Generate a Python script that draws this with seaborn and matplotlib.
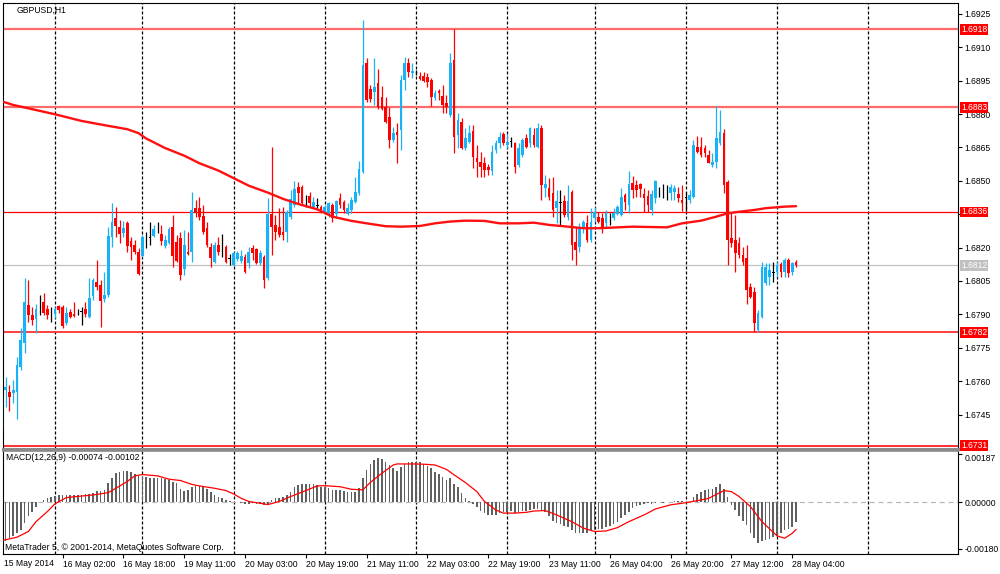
import matplotlib
matplotlib.use("Agg")
import matplotlib.pyplot as plt
import numpy as np
import pandas as pd
import seaborn as sns

symbol_title = "GBPUSD,H1"
macd_title = "MACD(12,26,9) -0.00074 -0.00102"
copyright_text = "MetaTrader 5, \u00a9 2001-2014, MetaQuotes Software Corp."

# ---- hourly candles (bar 0 = 15 May 2014 10:00) ----
opens = [1.67403, 1.67560, 1.67551, 1.67547, 1.67551, 1.67664, 1.67772, 1.67942, 1.67897, 1.67879,
         1.67933, 1.67955, 1.67924, 1.67897, 1.67902, 1.67938, 1.67933, 1.67861, 1.67911, 1.67902,
         1.67906, 1.67911, 1.67924, 1.67888, 1.67982, 1.68045, 1.68031, 1.67969, 1.67987, 1.68247,
         1.68333, 1.68293, 1.68266, 1.68311, 1.68230, 1.68211, 1.68180, 1.68162, 1.68243, 1.68247,
         1.68252, 1.68270, 1.68261, 1.68207, 1.68221, 1.68293, 1.68225, 1.68243, 1.68103, 1.68180,
         1.68180, 1.68378, 1.68378, 1.68342, 1.68288, 1.68202, 1.68135, 1.68211, 1.68189, 1.68202,
         1.68149, 1.68121, 1.68149, 1.68140, 1.68158, 1.68130, 1.68198, 1.68193, 1.68130, 1.68158,
         1.68063, 1.68351, 1.68302, 1.68293, 1.68270, 1.68270, 1.68338, 1.68391, 1.68472, 1.68472,
         1.68414, 1.68432, 1.68383, 1.68391, 1.68383, 1.68360, 1.68347, 1.68391, 1.68351, 1.68423,
         1.68405, 1.68351, 1.68369, 1.68405, 1.68445, 1.68540, 1.69030, 1.68913, 1.68900, 1.68940,
         1.68877, 1.68832, 1.68787, 1.68684, 1.68720, 1.68729, 1.68953, 1.69030, 1.68985, 1.68989,
         1.68971, 1.68971, 1.68967, 1.68953, 1.68873, 1.68904, 1.68882, 1.68850, 1.68796, 1.69043,
         1.68706, 1.68765, 1.68648, 1.68675, 1.68724, 1.68603, 1.68585, 1.68580, 1.68562, 1.68544,
         1.68639, 1.68670, 1.68711, 1.68661, 1.68675, 1.68670, 1.68571, 1.68616, 1.68693, 1.68670,
         1.68706, 1.68652, 1.68738, 1.68468, 1.68468, 1.68445, 1.68378, 1.68401, 1.68410, 1.68338,
         1.68450, 1.68225, 1.68202, 1.68293, 1.68311, 1.68234, 1.68333, 1.68338, 1.68333, 1.68311,
         1.68333, 1.68333, 1.68351, 1.68347, 1.68436, 1.68391, 1.68490, 1.68481, 1.68486, 1.68441,
         1.68432, 1.68369, 1.68423, 1.68450, 1.68432, 1.68459, 1.68445, 1.68450, 1.68441, 1.68414,
         1.68427, 1.68414, 1.68427, 1.68652, 1.68652, 1.68648, 1.68616, 1.68571, 1.68585, 1.68670,
         1.68715, 1.68495, 1.68243, 1.68234, 1.68221, 1.68166, 1.68153, 1.68022, 1.68000, 1.67830,
         1.67888, 1.68040, 1.68067, 1.68090, 1.68090, 1.68126, 1.68090, 1.68144, 1.68090, 1.68135]
highs = [1.67547, 1.67619, 1.67583, 1.67605, 1.67709, 1.67839, 1.68063, 1.68054, 1.67933, 1.67946,
         1.67987, 1.67996, 1.67942, 1.67933, 1.67933, 1.67942, 1.67942, 1.67933, 1.67924, 1.67955,
         1.67924, 1.67933, 1.67955, 1.68063, 1.68063, 1.68144, 1.68054, 1.68090, 1.68293, 1.68401,
         1.68383, 1.68324, 1.68320, 1.68320, 1.68247, 1.68234, 1.68198, 1.68256, 1.68270, 1.68315,
         1.68302, 1.68315, 1.68302, 1.68256, 1.68293, 1.68347, 1.68256, 1.68270, 1.68279, 1.68270,
         1.68450, 1.68414, 1.68427, 1.68391, 1.68315, 1.68221, 1.68225, 1.68247, 1.68261, 1.68211,
         1.68171, 1.68180, 1.68184, 1.68189, 1.68171, 1.68202, 1.68211, 1.68198, 1.68189, 1.68166,
         1.68423, 1.68652, 1.68347, 1.68378, 1.68383, 1.68369, 1.68459, 1.68499, 1.68495, 1.68481,
         1.68436, 1.68450, 1.68427, 1.68423, 1.68391, 1.68391, 1.68405, 1.68401, 1.68414, 1.68445,
         1.68414, 1.68401, 1.68427, 1.68517, 1.68589, 1.69223, 1.69052, 1.68931, 1.69052, 1.69003,
         1.68927, 1.68877, 1.68832, 1.68742, 1.68760, 1.68976, 1.69057, 1.69052, 1.69030, 1.68998,
         1.68989, 1.68989, 1.68985, 1.68962, 1.68909, 1.68913, 1.68931, 1.68886, 1.69075, 1.69182,
         1.68805, 1.68783, 1.68738, 1.68751, 1.68751, 1.68661, 1.68630, 1.68607, 1.68576, 1.68661,
         1.68684, 1.68720, 1.68720, 1.68711, 1.68697, 1.68675, 1.68670, 1.68693, 1.68711, 1.68742,
         1.68738, 1.68760, 1.68751, 1.68526, 1.68513, 1.68517, 1.68459, 1.68459, 1.68436, 1.68481,
         1.68459, 1.68293, 1.68311, 1.68324, 1.68347, 1.68378, 1.68383, 1.68360, 1.68355, 1.68369,
         1.68355, 1.68378, 1.68391, 1.68468, 1.68445, 1.68544, 1.68522, 1.68504, 1.68490, 1.68468,
         1.68459, 1.68459, 1.68504, 1.68472, 1.68486, 1.68481, 1.68486, 1.68481, 1.68472, 1.68481,
         1.68450, 1.68459, 1.68684, 1.68702, 1.68697, 1.68661, 1.68639, 1.68625, 1.68837, 1.68819,
         1.68733, 1.68504, 1.68356, 1.68347, 1.68247, 1.68202, 1.68211, 1.68040, 1.68022, 1.67920,
         1.68135, 1.68130, 1.68130, 1.68135, 1.68135, 1.68135, 1.68153, 1.68153, 1.68135, 1.68144]
lows = [1.67380, 1.67484, 1.67466, 1.67502, 1.67430, 1.67650, 1.67727, 1.67866, 1.67852, 1.67816,
        1.67897, 1.67897, 1.67879, 1.67866, 1.67884, 1.67906, 1.67839, 1.67852, 1.67884, 1.67888,
        1.67897, 1.67852, 1.67888, 1.67884, 1.67964, 1.68009, 1.67843, 1.67955, 1.67978, 1.68202,
        1.68247, 1.68221, 1.68247, 1.68180, 1.68144, 1.68171, 1.68076, 1.68158, 1.68198, 1.68211,
        1.68247, 1.68265, 1.68211, 1.68198, 1.68216, 1.68112, 1.68135, 1.68054, 1.68076, 1.68166,
        1.68135, 1.68338, 1.68324, 1.68261, 1.68202, 1.68112, 1.68130, 1.68166, 1.68158, 1.68130,
        1.68121, 1.68117, 1.68140, 1.68130, 1.68085, 1.68108, 1.68144, 1.68126, 1.68121, 1.68018,
        1.68054, 1.68166, 1.68234, 1.68247, 1.68234, 1.68225, 1.68329, 1.68383, 1.68401, 1.68391,
        1.68383, 1.68383, 1.68378, 1.68378, 1.68355, 1.68351, 1.68338, 1.68315, 1.68338, 1.68378,
        1.68355, 1.68347, 1.68355, 1.68401, 1.68436, 1.68535, 1.68855, 1.68855, 1.68841, 1.68823,
        1.68819, 1.68760, 1.68648, 1.68675, 1.68580, 1.68639, 1.68909, 1.68967, 1.68962, 1.68976,
        1.68953, 1.68944, 1.68922, 1.68837, 1.68864, 1.68864, 1.68805, 1.68805, 1.68787, 1.68625,
        1.68648, 1.68643, 1.68639, 1.68670, 1.68558, 1.68517, 1.68517, 1.68517, 1.68526, 1.68526,
        1.68625, 1.68648, 1.68661, 1.68648, 1.68652, 1.68535, 1.68562, 1.68607, 1.68648, 1.68652,
        1.68652, 1.68648, 1.68414, 1.68427, 1.68414, 1.68338, 1.68311, 1.68302, 1.68338, 1.68324,
        1.68144, 1.68121, 1.68180, 1.68265, 1.68225, 1.68225, 1.68315, 1.68311, 1.68265, 1.68293,
        1.68302, 1.68324, 1.68347, 1.68342, 1.68369, 1.68355, 1.68423, 1.68427, 1.68427, 1.68360,
        1.68360, 1.68347, 1.68401, 1.68427, 1.68423, 1.68414, 1.68414, 1.68414, 1.68405, 1.68365,
        1.68365, 1.68401, 1.68423, 1.68625, 1.68607, 1.68607, 1.68580, 1.68562, 1.68558, 1.68661,
        1.68445, 1.68121, 1.68202, 1.68090, 1.68153, 1.68121, 1.67946, 1.67973, 1.67821, 1.67821,
        1.67884, 1.68031, 1.68031, 1.68045, 1.68067, 1.68067, 1.68067, 1.68067, 1.68076, 1.68112]
closes = [1.67515, 1.67574, 1.67529, 1.67560, 1.67673, 1.67785, 1.67955, 1.67897, 1.67875, 1.67924,
          1.67933, 1.67906, 1.67897, 1.67897, 1.67924, 1.67920, 1.67848, 1.67906, 1.67888, 1.67893,
          1.67906, 1.67911, 1.67902, 1.67973, 1.68054, 1.68022, 1.67960, 1.67987, 1.68252, 1.68315,
          1.68297, 1.68261, 1.68288, 1.68207, 1.68202, 1.68180, 1.68081, 1.68247, 1.68243, 1.68247,
          1.68284, 1.68270, 1.68230, 1.68234, 1.68284, 1.68162, 1.68140, 1.68076, 1.68211, 1.68171,
          1.68369, 1.68355, 1.68338, 1.68270, 1.68211, 1.68153, 1.68211, 1.68180, 1.68189, 1.68135,
          1.68149, 1.68175, 1.68175, 1.68162, 1.68090, 1.68180, 1.68175, 1.68130, 1.68175, 1.68054,
          1.68351, 1.68293, 1.68270, 1.68256, 1.68256, 1.68360, 1.68418, 1.68463, 1.68445, 1.68401,
          1.68414, 1.68401, 1.68405, 1.68391, 1.68365, 1.68383, 1.68401, 1.68333, 1.68410, 1.68391,
          1.68369, 1.68378, 1.68414, 1.68450, 1.68553, 1.69021, 1.68864, 1.68868, 1.68922, 1.68832,
          1.68823, 1.68765, 1.68684, 1.68715, 1.68706, 1.68953, 1.69030, 1.68989, 1.68994, 1.68989,
          1.68958, 1.68949, 1.68944, 1.68877, 1.68895, 1.68895, 1.68841, 1.68832, 1.69030, 1.68697,
          1.68774, 1.68648, 1.68693, 1.68715, 1.68607, 1.68585, 1.68562, 1.68549, 1.68549, 1.68630,
          1.68670, 1.68697, 1.68670, 1.68675, 1.68675, 1.68562, 1.68648, 1.68684, 1.68652, 1.68738,
          1.68661, 1.68738, 1.68481, 1.68486, 1.68427, 1.68369, 1.68410, 1.68401, 1.68347, 1.68410,
          1.68211, 1.68189, 1.68293, 1.68315, 1.68234, 1.68315, 1.68360, 1.68315, 1.68293, 1.68355,
          1.68333, 1.68355, 1.68383, 1.68427, 1.68405, 1.68486, 1.68459, 1.68459, 1.68463, 1.68423,
          1.68391, 1.68441, 1.68499, 1.68450, 1.68432, 1.68459, 1.68472, 1.68468, 1.68423, 1.68401,
          1.68427, 1.68436, 1.68661, 1.68630, 1.68616, 1.68625, 1.68580, 1.68585, 1.68693, 1.68720,
          1.68481, 1.68234, 1.68221, 1.68175, 1.68166, 1.68135, 1.68009, 1.67978, 1.67861, 1.67906,
          1.68112, 1.68112, 1.68099, 1.68090, 1.68121, 1.68090, 1.68144, 1.68085, 1.68130, 1.68120]

# ---- moving average (read at sample bars) ----
ma_bars = [0, 3, 14, 21, 28, 33, 36, 38, 43, 48, 52, 57, 61, 65, 70, 74, 78, 83, 87, 92, 96,
           101, 105, 110, 114, 118, 122, 127, 131, 136, 140, 144, 149, 153, 157, 166, 175, 179,
           184, 188, 191, 194, 198, 201, 206, 209]
ma_values = [1.68857, 1.68841, 1.68799, 1.68769, 1.68747, 1.68732, 1.68714, 1.68690, 1.68647,
             1.68613, 1.68579, 1.68546, 1.68512, 1.68478, 1.68447, 1.68419, 1.68396, 1.68372,
             1.68339, 1.68320, 1.68309, 1.68296, 1.68294, 1.68297, 1.68309, 1.68317, 1.68321,
             1.68320, 1.68309, 1.68309, 1.68312, 1.68302, 1.68294, 1.68287, 1.68287, 1.68294,
             1.68291, 1.68309, 1.68321, 1.68339, 1.68354, 1.68361, 1.68369, 1.68377, 1.68384,
             1.68386]

# ---- MACD histogram (one value per bar) ----
macd_hist = [-0.00152, -0.00148, -0.00139, -0.00130, -0.00120, -0.00107, -0.00081, -0.00055, -0.00036, -0.00017,
             -0.00001, 0.00009, 0.00015, 0.00022, 0.00024, 0.00028, 0.00027, 0.00028, 0.00029, 0.00028,
             0.00028, 0.00029, 0.00030, 0.00032, 0.00037, 0.00044, 0.00045, 0.00048, 0.00073, 0.00093,
             0.00112, 0.00118, 0.00122, 0.00121, 0.00115, 0.00109, 0.00102, 0.00099, 0.00097, 0.00095,
             0.00095, 0.00095, 0.00093, 0.00089, 0.00086, 0.00080, 0.00073, 0.00050, 0.00045, 0.00048,
             0.00058, 0.00063, 0.00063, 0.00058, 0.00050, 0.00041, 0.00028, 0.00022, 0.00015, 0.00009,
             0.00006, 0.00001, -0.00001, -0.00004, -0.00008, -0.00006, -0.00004, -0.00006, -0.00008, -0.00012,
             -0.00005, 0.00009, 0.00015, 0.00018, 0.00019, 0.00028, 0.00041, 0.00058, 0.00066, 0.00069,
             0.00071, 0.00071, 0.00069, 0.00067, 0.00060, 0.00058, 0.00054, 0.00048, 0.00048, 0.00048,
             0.00045, 0.00041, 0.00039, 0.00041, 0.00054, 0.00093, 0.00125, 0.00148, 0.00163, 0.00170,
             0.00167, 0.00157, 0.00144, 0.00131, 0.00122, 0.00135, 0.00148, 0.00154, 0.00157, 0.00157,
             0.00154, 0.00148, 0.00140, 0.00131, 0.00118, 0.00109, 0.00099, 0.00086, 0.00093, 0.00069,
             0.00060, 0.00035, 0.00015, 0.00003, -0.00006, -0.00019, -0.00032, -0.00042, -0.00049, -0.00051,
             -0.00049, -0.00042, -0.00036, -0.00036, -0.00032, -0.00040, -0.00036, -0.00033, -0.00033, -0.00030,
             -0.00026, -0.00027, -0.00030, -0.00036, -0.00055, -0.00071, -0.00079, -0.00084, -0.00090, -0.00094,
             -0.00107, -0.00120, -0.00120, -0.00117, -0.00117, -0.00113, -0.00107, -0.00104, -0.00103, -0.00097,
             -0.00091, -0.00084, -0.00075, -0.00062, -0.00049, -0.00036, -0.00023, -0.00014, -0.00010, -0.00006,
             -0.00004, -0.00006, -0.00004, -0.00001, -0.00004, -0.00001, 0.00000, 0.00003, 0.00005, 0.00003,
             -0.00004, -0.00001, 0.00019, 0.00032, 0.00041, 0.00048, 0.00050, 0.00050, 0.00060, 0.00069,
             0.00050, 0.00022, -0.00010, -0.00030, -0.00055, -0.00071, -0.00088, -0.00117, -0.00139, -0.00156,
             -0.00149, -0.00145, -0.00143, -0.00135, -0.00130, -0.00117, -0.00107, -0.00104, -0.00095, -0.00078]

# ---- MACD signal line (read at sample bars) ----
signal_bars = [0, 4, 7, 9, 12, 14, 17, 21, 24, 28, 30, 33, 35, 37, 41, 44, 47, 50, 52, 56, 59, 61,
               63, 65, 68, 70, 73, 76, 80, 83, 85, 89, 92, 95, 97, 100, 103, 104, 108, 111, 114,
               117, 119, 122, 125, 127, 130, 132, 135, 138, 140, 143, 146, 150, 153, 156, 159, 162,
               165, 169, 172, 176, 179, 183, 186, 190, 192, 194, 197, 200, 204, 206, 208, 209]
signal_values = [-0.00148, -0.00135, -0.00113, -0.00075, -0.00036, -0.00006, 0.00018, 0.00024,
                 0.00028, 0.00037, 0.00054, 0.00080, 0.00102, 0.00107, 0.00102, 0.00089, 0.00084,
                 0.00069, 0.00063, 0.00054, 0.00045, 0.00032, 0.00015, 0.00003, -0.00004, -0.00009,
                 0.00003, 0.00022, 0.00045, 0.00063, 0.00064, 0.00060, 0.00050, 0.00048, 0.00077,
                 0.00112, 0.00144, 0.00148, 0.00148, 0.00147, 0.00144, 0.00127, 0.00106, 0.00076,
                 0.00041, 0.00003, -0.00030, -0.00042, -0.00042, -0.00039, -0.00034, -0.00032,
                 -0.00049, -0.00075, -0.00100, -0.00113, -0.00111, -0.00098, -0.00075, -0.00049,
                 -0.00026, -0.00010, -0.00004, 0.00006, 0.00015, 0.00045, 0.00041, 0.00022,
                 -0.00017, -0.00075, -0.00130, -0.00139, -0.00120, -0.00105]

level_prices = [1.6918, 1.6883, 1.6836, 1.6782, 1.6731]
level_labels = ["1.6918", "1.6883", "1.6836", "1.6782", "1.6731"]
current_price = 1.6812
current_label = "1.6812"
price_ticks = [1.6730, 1.6745, 1.6760, 1.6775, 1.6790, 1.6805, 1.6820, 1.6835,
               1.6850, 1.6865, 1.6880, 1.6895, 1.6910, 1.6925]
# tick values whose labels sit under a level box in the reference
hidden_price_ticks = [1.6730, 1.6835]
macd_ticks = [0.00187, 0.0, -0.00180]
macd_tick_labels = ["0.00187", "0.00000", "-0.00180"]
time_tick_bars = [16, 32, 48, 64, 80, 96, 112, 128, 144, 160, 176, 192, 208]
time_tick_labels = ["16 May 02:00", "16 May 18:00", "19 May 11:00", "20 May 03:00",
                    "20 May 19:00", "21 May 11:00", "22 May 03:00", "22 May 19:00",
                    "23 May 11:00", "26 May 04:00", "26 May 20:00", "27 May 12:00",
                    "28 May 04:00"]
first_time_label = "15 May 2014"
day_start_bars = [14, 37, 61, 85, 109, 133, 156, 180, 204, 228]

# ---------------- drawing ----------------
sns.set_theme(style="white")
plt.rcParams['font.family'] = ['Liberation Sans', 'DejaVu Sans']
plt.rcParams['axes.linewidth'] = 0.8
FS = 6.2
BLUE = '#18B2F6'
RED = '#FF0000'

fig = plt.figure(figsize=(10, 5.74), dpi=100)
fig.patch.set_facecolor('white')
ax = fig.add_axes([0.003, 0.21777, 0.955, 0.777])
axm = fig.add_axes([0.003, 0.03484, 0.955, 0.17945])

XL = (0.32, 251.6)
for a in (ax, axm):
    a.set_facecolor('white')
    a.set_xlim(*XL)
    for s in a.spines.values():
        s.set_color('black')
        s.set_linewidth(0.8)
    for b in day_start_bars:
        a.axvline(b, color='black', lw=0.9, ls=(0, (2.4, 1.6)), zorder=1)

ax.spines['bottom'].set_color('#8a8a8a')
ax.spines['bottom'].set_linewidth(2.2)
axm.spines['top'].set_color('#8a8a8a')
axm.spines['top'].set_linewidth(1.2)

ax.set_ylim(1.67295, 1.69299)
axm.set_ylim(-0.00200, 0.00198)

# horizontal level lines
level_styles = [('#FF6A6A', 1.6), ('#FF6A6A', 1.6), ('#FF0000', 0.9), ('#FF3030', 1.3), ('#FF2020', 1.3)]
for p, (c, lw) in zip(level_prices, level_styles):
    ax.axhline(p, color=c, lw=lw, zorder=2)
ax.axhline(current_price, color='#C0C0C0', lw=0.9, zorder=2)

# candles
o = np.array(opens); h = np.array(highs); l = np.array(lows); c = np.array(closes)
x = np.arange(len(o))
cols = np.where(c > o, BLUE, np.where(c < o, RED, 'black'))
ax.vlines(x, l, h, colors=cols, lw=0.9, zorder=3)
body_h = np.maximum(np.abs(c - o), 0.00004)
body_b = np.where(c == o, o - 0.00002, np.minimum(o, c))
ax.bar(x, body_h, bottom=body_b, width=0.7, color=cols, linewidth=0, zorder=4)

# moving average
ma_df = pd.DataFrame({'bar': ma_bars, 'ma': ma_values})
sns.lineplot(data=ma_df, x='bar', y='ma', ax=ax, color='#FF1010', linewidth=1.7,
             legend=False, zorder=4.5)

# price axis
ax.yaxis.tick_right()
ax.set_yticks(price_ticks)
ax.set_yticklabels(["" if p in hidden_price_ticks else f"{p:.4f}" for p in price_ticks])
ax.tick_params(axis='y', which='both', right=True, left=False, length=3, width=0.8,
               pad=1.5, labelsize=FS, colors='black', direction='out')
ax.set_xticks([])
ax.set_xlabel(''); ax.set_ylabel('')

ytr = ax.get_yaxis_transform()
for p, t in zip(level_prices, level_labels):
    ax.text(1.0035, p, t, transform=ytr, ha='left', va='center', fontsize=FS, color='white',
            zorder=20, clip_on=False,
            bbox=dict(boxstyle='square,pad=0.1', fc='#FF0000', ec='none'))
ax.text(1.0035, current_price, current_label, transform=ytr, ha='left', va='center',
        fontsize=FS, color='white', zorder=20, clip_on=False,
        bbox=dict(boxstyle='square,pad=0.1', fc='#C0C0C0', ec='none'))

# MACD panel
axm.axhline(0, color='#B8B8B8', lw=0.9, ls=(0, (4, 3)), zorder=1.5)
axm.bar(x, macd_hist, width=0.42, color='#606060', linewidth=0, zorder=3)
sig_df = pd.DataFrame({'bar': signal_bars, 'sig': signal_values})
sns.lineplot(data=sig_df, x='bar', y='sig', ax=axm, color='#FF0000', linewidth=0.9,
             legend=False, zorder=4)
axm.yaxis.tick_right()
axm.set_yticks(macd_ticks)
axm.set_yticklabels(macd_tick_labels)
axm.tick_params(axis='y', right=True, left=False, length=3, width=0.8, pad=1.5,
                labelsize=FS, colors='black', direction='out')
ylbls = axm.get_yticklabels()
ylbls[0].set_va('top')
axm.set_xticks(time_tick_bars)
axm.set_xticklabels(time_tick_labels)
axm.tick_params(axis='x', bottom=True, length=3, width=0.8, pad=1.5, labelsize=FS,
                colors='black', direction='out')
for lbl in axm.get_xticklabels():
    lbl.set_ha('left')
axm.set_xlabel(''); axm.set_ylabel('')

# texts
fig.text(0.017, 1 - 10 / 574, symbol_title, fontsize=FS, ha='left', va='center', color='black')
fig.text(0.006, 1 - 458 / 574, macd_title, fontsize=FS, ha='left', va='center', color='black')
fig.text(0.005, 1 - 548 / 574, copyright_text, fontsize=FS, ha='left', va='center', color='black')
fig.text(0.004, 1 - 563 / 574, first_time_label, fontsize=FS, ha='left', va='center', color='black')

fig.savefig('out.png', dpi=100, facecolor='white')
